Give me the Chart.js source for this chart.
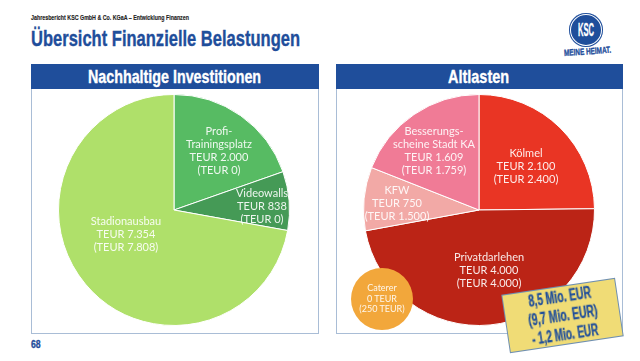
<!DOCTYPE html>
<html lang="de">
<head>
<meta charset="utf-8">
<title>Übersicht Finanzielle Belastungen</title>
<script src="https://cdn.jsdelivr.net/npm/chart.js@4"></script>
<style>
  html, body { margin: 0; padding: 0; background: #fff; }
  #page { position: relative; width: 640px; height: 361px; overflow: hidden; font-family: Lato, "Open Sans", sans-serif; }
  #page div { position: absolute; }
  .head { font-family: "Liberation Sans", sans-serif; font-weight: bold; white-space: nowrap; -webkit-text-stroke: .35px currentColor; }
  .fit { display: inline-block; transform-origin: 0 50%; }
  .panel { top: 64px; height: 270px; border: 1px solid #a9bdd6; box-sizing: border-box; }
  .band { top: 64px; height: 25px; background: #1f4e9b; color: #fff; font-size: 18.5px; line-height: 25px; }
  .chartbox { width: 240px; height: 240px; }
  .lbl { color: rgba(255,255,255,.9); text-align: center; white-space: nowrap; transform: translateX(-50%); font-size: 11px; line-height: 13px; }
  #caterer { left: 351px; top: 268px; width: 62px; height: 62px; border-radius: 50%; background: #f2a73b; }
  #sumbox { left: 504.5px; top: 285.5px; width: 115px; height: 59px; background: #f0dc76; border: 1px solid #6f8fb0; box-sizing: border-box; transform: rotate(-8.5deg); color: #1f4e9b; font-size: 16px; line-height: 19px; }
  #logo { left: 568.5px; top: 12.5px; width: 34px; height: 34px; box-sizing: border-box; border-radius: 50%; background: #1f4e9b; box-shadow: inset 0 0 0 1px #1f4e9b, inset 0 0 0 2px #fff; }
  #claim { transform: rotate(-4deg); transform-origin: 0 50%; }
</style>
</head>
<body>
<div id="page">
  <div class="head" style="left:31px;top:12px;font-size:8px;line-height:11px;color:#222;-webkit-text-stroke:.15px #222"><span class="fit" data-w="158">Jahresbericht KSC GmbH &amp; Co. KGaA – Entwicklung Finanzen</span></div>
  <div class="head" style="left:31px;top:26px;font-size:21.5px;line-height:26px;color:#1f4e9b"><span class="fit" data-w="269">Übersicht Finanzielle Belastungen</span></div>
  <div id="logo"></div>
  <div class="head" style="left:577.5px;top:20.5px;font-size:18px;line-height:18px;color:#fff"><span class="fit" data-w="16">KSC</span></div>
  <div id="claim" class="head" style="left:564px;top:48px;font-size:9px;line-height:11px;color:#1f4e9b"><span class="fit" data-w="47">MEINE HEIMAT.</span></div>

  <div class="panel" style="left:31px;width:288px"></div>
  <div class="panel" style="left:336px;width:287px"></div>
  <div class="band" style="left:31px;width:288px"></div>
  <div class="band" style="left:336px;width:287px"></div>
  <div class="head band" style="left:88px;background:none"><span class="fit" data-w="173">Nachhaltige Investitionen</span></div>
  <div class="head band" style="left:448px;background:none"><span class="fit" data-w="61">Altlasten</span></div>

  <div class="chartbox" style="left:54px;top:90px"><canvas id="investChart" width="240" height="240"></canvas></div>
  <div class="chartbox" style="left:359px;top:90px"><canvas id="altChart" width="240" height="240"></canvas></div>

  <div id="caterer"></div>
  <div id="sumbox" class="head"></div>
  <div class="head" style="left:31px;top:338px;font-size:11px;line-height:12px;color:#1f4e9b"><span class="fit" data-w="9.5">68</span></div>
</div>

<script>
const investLabels = [['Profi-', 'Trainingsplatz'], ['Videowalls'], ['Stadionausbau']]
const investValues = [2000, 838, 7354]
const investPrior = [0, 0, 7808]
const investColors = ['#57bb63', '#459a56', '#afe06a']

const altLabels = [['Kölmel'], ['Privatdarlehen'], ['KFW'], ['Besserungs-', 'scheine Stadt KA']]
const altValues = [2100, 4000, 750, 1609]
const altPrior = [2400, 4000, 1500, 1759]
const altColors = ['#e93524', '#bb2416', '#f2a9a6', '#f07b96']

const catererValue = 0
const catererPrior = 250
const summaryLines = ['8,5 Mio. EUR', '(9,7 Mio. EUR)', '- 1,2 Mio. EUR']
const summaryWidths = [63, 70, 67]

// x-Mitte / y-Oberkante der Beschriftungen
const investSpots = [[219, 124], [262, 186], [126, 214]]
const altSpots = [[526, 146], [489, 250], [397, 183], [434, 124]]

const teur = (n) => n.toLocaleString('de-DE')

const addLabel = (lines, spot, size) => {
  const el = document.createElement('div')
  el.className = 'lbl'
  el.style.left = spot[0] + 'px'
  el.style.top = spot[1] + 'px'
  if (size) {
    el.style.fontSize = size + 'px'
    el.style.lineHeight = size + 1.5 + 'px'
  }
  el.innerHTML = lines.join('<br>')
  document.getElementById('page').appendChild(el)
}

const drawPie = (id, labels, values, colors) => {
  new Chart(document.getElementById(id), {
    type: 'pie',
    data: {
      labels: labels.map((l) => l.join(' ')),
      datasets: [{ data: values, backgroundColor: colors, borderColor: '#fff', borderWidth: 1 }],
    },
    options: {
      responsive: false,
      animation: false,
      layout: { padding: 4 },
      plugins: { legend: { display: false }, tooltip: { enabled: false } },
    },
  })
}

drawPie('investChart', investLabels, investValues, investColors)
drawPie('altChart', altLabels, altValues, altColors)

investLabels.forEach((l, i) => {
  addLabel([...l, 'TEUR ' + teur(investValues[i]), '(TEUR ' + teur(investPrior[i]) + ')'], investSpots[i])
})
altLabels.forEach((l, i) => {
  addLabel([...l, 'TEUR ' + teur(altValues[i]), '(TEUR ' + teur(altPrior[i]) + ')'], altSpots[i])
})
addLabel(['Caterer', catererValue + ' TEUR', '(' + catererPrior + ' TEUR)'], [382, 283], 9)

// Kasten unten rechts, Zeilen einzeln zentriert
const sumbox = document.getElementById('sumbox')
summaryLines.forEach((line, i) => {
  const row = document.createElement('span')
  row.style.cssText = 'display:block;height:19px;position:relative'
  row.innerHTML = `<span class="fit" data-w="${summaryWidths[i]}" style="position:absolute;left:${(113 - summaryWidths[i]) / 2}px">${line}</span>`
  sumbox.appendChild(row)
})

// schmale Plakatschrift gibt es nicht, also auf Zielbreite stauchen
document.querySelectorAll('.fit').forEach((el) => {
  el.style.transform = `scaleX(${el.dataset.w / el.offsetWidth})`
})
</script>
</body>
</html>
